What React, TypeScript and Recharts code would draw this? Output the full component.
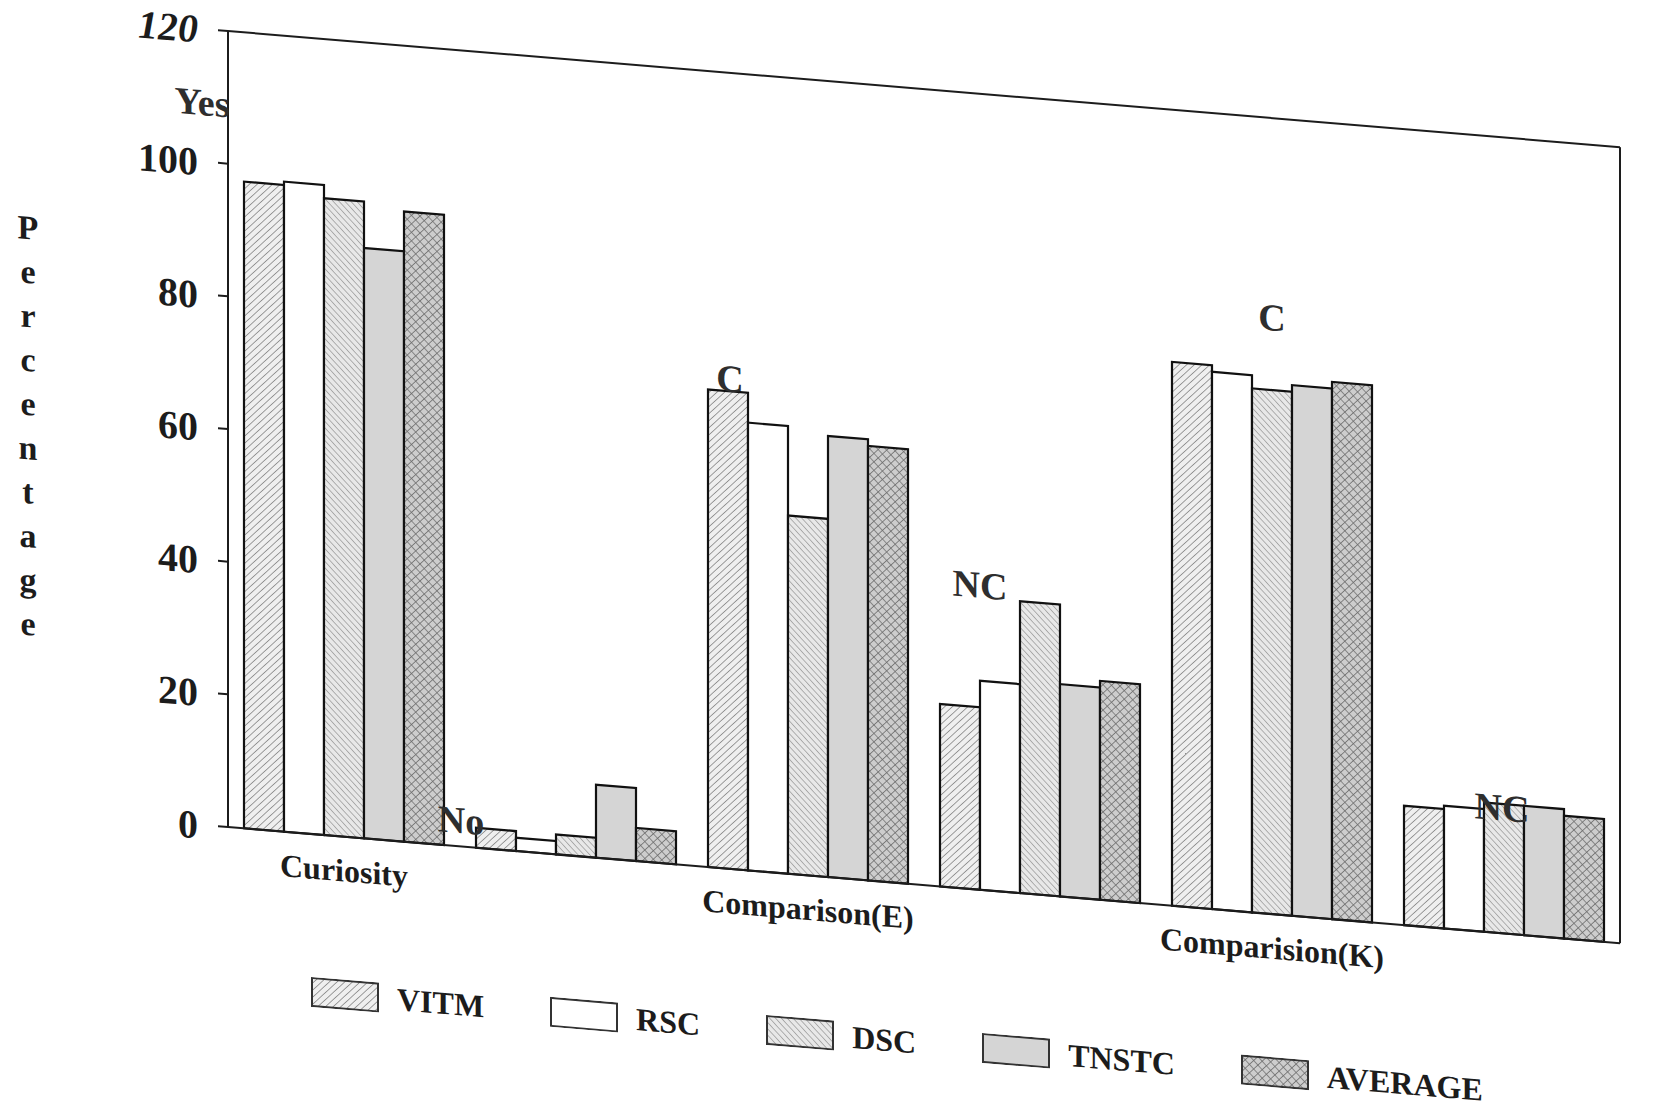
import React from "react";
import { BarChart, Bar, XAxis, YAxis, Legend, ReferenceDot, ReferenceLine } from "recharts";

// groups along the x axis (two answers per question)
const groups = [
  "Curiosity-Yes",
  "Curiosity-No",
  "ComparisonE-C",
  "ComparisonE-NC",
  "ComparisionK-C",
  "ComparisionK-NC",
];
const groupLabels = ["Curiosity", "", "Comparison(E)", "", "Comparision(K)", ""];
const answers = ["Yes", "No", "C", "NC", "C", "NC"];
const answerLevels = [109, 4, 74, 46, 90, 19];

// percentages per series
const vitm = [97.5, 3, 72, 27.5, 82, 18];
const rsc = [98, 2, 67.5, 31.5, 81, 18.5];
const dsc = [96, 3, 54, 44, 79, 19.5];
const tnstc = [89, 11, 66.5, 32, 80, 19.5];
const average = [95, 5, 65.5, 33, 81, 18.5];

const seriesNames = ["VITM", "RSC", "DSC", "TNSTC", "AVERAGE"];
const yTicks = [0, 20, 40, 60, 80, 100, 120];
const axisTitle = "Percentage";

const data = groups.map((g, i) => ({
  group: g,
  VITM: vitm[i],
  RSC: rsc[i],
  DSC: dsc[i],
  TNSTC: tnstc[i],
  AVERAGE: average[i],
}));

const FONT = '"Liberation Serif", "Times New Roman", serif';
const INK = "#1c1c1c";
const SKEW = 4.77; // the scanned page slopes down to the right
const ORIGIN_X = 228;
const ORIGIN_Y = 827;
const LEGEND_TOP = 965;

const fills: Record<string, string> = {
  VITM: "url(#pVitm)",
  RSC: "#ffffff",
  DSC: "url(#pDsc)",
  TNSTC: "#d5d5d5",
  AVERAGE: "url(#pAvg)",
};
const answerShift = [-142, -115, -78, -60, 0, -2];

function PatternDefs() {
  return (
    <svg width={0} height={0} style={{ position: "absolute" }}>
      <defs>
        <pattern id="pVitm" patternUnits="userSpaceOnUse" width={5} height={5} patternTransform="rotate(45)">
          <rect width={5} height={5} fill="#efefef" />
          <line x1={0} y1={0} x2={0} y2={5} stroke="#858585" strokeWidth={1.5} />
        </pattern>
        <pattern id="pDsc" patternUnits="userSpaceOnUse" width={4.5} height={4.5} patternTransform="rotate(-45)">
          <rect width={4.5} height={4.5} fill="#e8e8e8" />
          <line x1={0} y1={0} x2={0} y2={4.5} stroke="#8c8c8c" strokeWidth={1.3} />
        </pattern>
        <pattern id="pAvg" patternUnits="userSpaceOnUse" width={6} height={6} patternTransform="rotate(45)">
          <rect width={6} height={6} fill="#cdcdcd" />
          <line x1={0} y1={0} x2={0} y2={6} stroke="#6c6c6c" strokeWidth={1.5} />
          <line x1={0} y1={0} x2={6} y2={0} stroke="#6c6c6c" strokeWidth={1.5} />
        </pattern>
      </defs>
    </svg>
  );
}

function ValueTick(props: any) {
  const { x, y, payload } = props;
  return (
    <text
      x={x}
      y={y}
      dy="0.35em"
      textAnchor="end"
      fontFamily={FONT}
      fontSize={40}
      fontWeight={700}
      fontStyle={payload.value === 120 ? "italic" : "normal"}
      fill={INK}
    >
      {payload.value}
    </text>
  );
}

function GroupTick(props: any) {
  const { x, y, payload } = props;
  const label = groupLabels[groups.indexOf(payload.value)];
  if (!label) return null;
  return (
    <text x={x} y={y} dy="0.71em" textAnchor="middle" fontFamily={FONT} fontSize={32} fontWeight={700} fill={INK}>
      {label}
    </text>
  );
}

function PercentLabel(props: any) {
  const vb = props.viewBox || { x: 0, y: 0, width: 0, height: 0 };
  const step = 44;
  const mid = vb.y + vb.height / 2 + 13;
  const first = mid - (step * (axisTitle.length - 1)) / 2;
  return (
    <text fontFamily={FONT} fontSize={34} fontWeight={700} fill={INK} textAnchor="middle">
      {axisTitle.split("").map((ch, i) => (
        <tspan key={i} x={vb.x + 28} y={first + i * step} dy="0.35em">
          {ch}
        </tspan>
      ))}
    </text>
  );
}

function AnswerText({ viewBox, text, shift }: any) {
  const vb = viewBox || { x: 0, y: 0 };
  return (
    <text
      x={vb.x + shift}
      y={vb.y}
      dy="0.35em"
      textAnchor="middle"
      fontFamily={FONT}
      fontSize={38}
      fontWeight={700}
      fill="#2e2e2e"
    >
      {text}
    </text>
  );
}

function LegendRow() {
  return (
    <div
      style={{
        height: 40,
        display: "flex",
        alignItems: "center",
        paddingLeft: 311,
        transform: `skewY(${SKEW}deg)`,
        transformOrigin: `${ORIGIN_X}px ${ORIGIN_Y - LEGEND_TOP}px`,
        fontFamily: FONT,
        fontWeight: 700,
        fontSize: 32,
        color: INK,
      }}
    >
      {seriesNames.map((name) => (
        <div key={name} style={{ display: "flex", alignItems: "center", marginRight: 66 }}>
          <svg width={68} height={30} style={{ display: "block" }}>
            <rect x={1} y={1} width={66} height={28} fill={fills[name]} stroke="#333" strokeWidth={2} />
          </svg>
          <span style={{ marginLeft: 18, lineHeight: "40px" }}>{name}</span>
        </div>
      ))}
    </div>
  );
}

export default function App() {
  const frameLine = { stroke: INK, strokeWidth: 2 };
  return (
    <div
      className="chart-root"
      style={{ position: "absolute", left: 0, top: 0, width: 1664, height: 1113, overflow: "hidden", background: "#fff" }}
    >
      <style>{`.chart-root .recharts-wrapper > svg.recharts-surface { transform: skewY(${SKEW}deg); transform-origin: ${ORIGIN_X}px ${ORIGIN_Y}px; }`}</style>
      <PatternDefs />
      <BarChart
        width={1664}
        height={1113}
        data={data}
        margin={{ top: 31, right: 43, bottom: 108, left: 0 }}
        barGap={0}
        barCategoryGap={16}
      >
        <XAxis
          dataKey="group"
          height={138}
          interval={0}
          tickLine={false}
          tickSize={0}
          tickMargin={22}
          axisLine={frameLine}
          tick={<GroupTick />}
        />
        <YAxis
          width={228}
          domain={[0, 120]}
          ticks={yTicks}
          interval={0}
          tickSize={10}
          tickMargin={20}
          tickLine={frameLine}
          axisLine={frameLine}
          tick={<ValueTick />}
          label={(p: any) => <PercentLabel {...p} />}
        />
        <YAxis yAxisId="frame" orientation="right" width={1} domain={[0, 120]} tick={false} tickLine={false} axisLine={frameLine} />

        {/* top edge of the frame */}
        <ReferenceLine y={120} stroke={INK} strokeWidth={2} />

        {seriesNames.map((name) => (
          <Bar key={name} dataKey={name} fill={fills[name]} stroke="#111" strokeWidth={2.2} isAnimationActive={false} />
        ))}

        {groups.map((g, i) => (
          <ReferenceDot
            key={g}
            x={g}
            y={answerLevels[i]}
            r={0}
            fill="none"
            stroke="none"
            label={(p: any) => <AnswerText viewBox={p.viewBox} text={answers[i]} shift={answerShift[i]} />}
          />
        ))}

        <Legend
          verticalAlign="bottom"
          wrapperStyle={{ left: 0, top: LEGEND_TOP, width: 1664, height: 40 }}
          content={() => <LegendRow />}
        />
      </BarChart>
    </div>
  );
}
